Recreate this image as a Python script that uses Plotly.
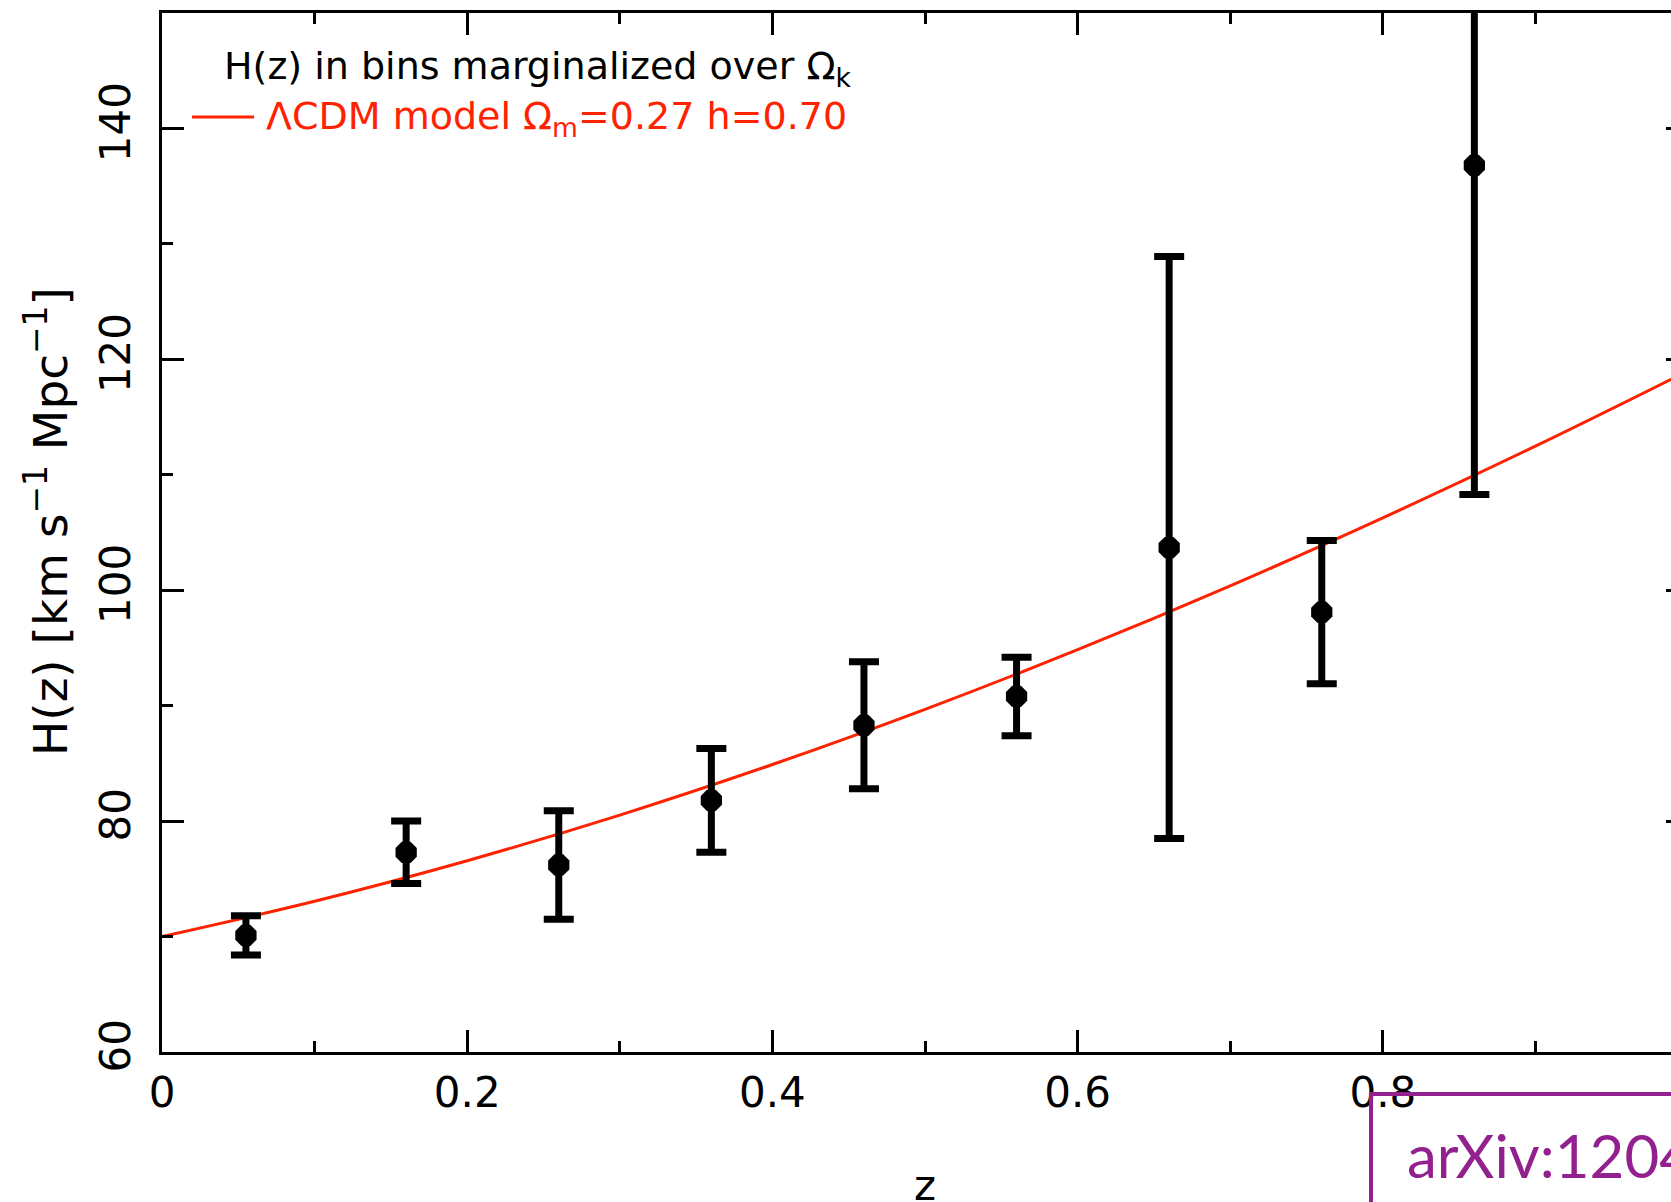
import plotly.graph_objects as go

# ---- data ----
z_bins = [0.055, 0.16, 0.26, 0.36, 0.46, 0.56, 0.66, 0.76, 0.86]
H_bins = [70.1, 77.3, 76.2, 81.8, 88.3, 90.8, 103.7, 98.1, 136.8]
H_err = [1.7, 2.7, 4.7, 4.5, 5.5, 3.4, 25.2, 6.2, 28.5]

model_z = [0.0, 0.1, 0.2, 0.3, 0.4, 0.5, 0.6, 0.7, 0.8, 0.9, 1.0]
model_H = [70.0, 73.06, 76.57, 80.52, 84.90, 89.68, 94.85, 100.38, 106.27, 112.48, 119.0]

x_ticks = [0, 0.2, 0.4, 0.6, 0.8]
x_ticklabels = ["0", "0.2", "0.4", "0.6", "0.8"]
y_ticks = [60, 80, 100, 120, 140]
y_ticklabels = ["60", "80", "100", "120", "140"]

W, Hh = 1671, 1202
ML, MR, MT, MB = 162, 0, 13, 150
PW = W - ML - MR
PH = Hh - MT - MB


def px(xp):
    return (xp - ML) / PW


def py(yp):
    return (Hh - MB - yp) / PH


RED = "#ff2200"
PURPLE = "#93208f"
FONT = "DejaVu Sans"

fig = go.Figure()

fig.add_trace(go.Scatter(
    x=model_z, y=model_H, mode="lines", line=dict(color=RED, width=3, shape="spline"),
    showlegend=False, hoverinfo="skip"))

fig.add_trace(go.Scatter(
    x=z_bins, y=H_bins, mode="markers",
    marker=dict(symbol="octagon", size=23, color="black"),
    error_y=dict(type="data", array=H_err, color="black", thickness=7, width=15),
    showlegend=False))

# invisible trace for right-hand tick stubs
fig.add_trace(go.Scatter(x=[0.5], y=[100], yaxis="y2", mode="markers",
                         marker=dict(opacity=0), showlegend=False, hoverinfo="skip"))

fig.update_layout(
    width=W, height=Hh,
    margin=dict(l=ML, r=MR, t=MT, b=MB, pad=0),
    plot_bgcolor="white", paper_bgcolor="white",
    font=dict(family=FONT, color="black"),
    xaxis=dict(range=[0, PW / 1526.0], tickvals=x_ticks, ticktext=x_ticklabels, automargin=False,
               showline=True, linecolor="black", linewidth=3, mirror="ticks",
               ticks="inside", ticklen=22, tickwidth=3, tickcolor="black",
               tickfont=dict(size=42, family=FONT), ticklabelstandoff=2,
               minor=dict(dtick=0.1, tick0=0, ticks="inside", ticklen=11, tickwidth=3, tickcolor="black"),
               showgrid=False, zeroline=False),
    yaxis=dict(range=[60, 150], tickvals=y_ticks, ticktext=y_ticklabels, automargin=False,
               showline=True, linecolor="black", linewidth=3, mirror=False,
               ticks="inside", ticklen=22, tickwidth=3, tickcolor="black",
               tickangle=-90, tickfont=dict(size=42, family=FONT), ticklabelstandoff=12,
               minor=dict(dtick=10, tick0=60, ticks="inside", ticklen=11, tickwidth=3, tickcolor="black"),
               showgrid=False, zeroline=False),
    yaxis2=dict(range=[60, 150], overlaying="y", side="right", tickvals=y_ticks, automargin=False,
                showticklabels=False, ticks="inside", ticklen=5, tickwidth=3, tickcolor="black",
                showline=False, showgrid=False, zeroline=False),
)

# legend-like text
fig.add_annotation(xref="paper", yref="paper", x=px(222), y=py(68), xanchor="left", yanchor="middle",
                   text="H(z) in bins marginalized over Ω<sub>k</sub>", showarrow=False,
                   font=dict(size=38, color="black", family=FONT))
fig.add_annotation(xref="paper", yref="paper", x=px(264), y=py(119), xanchor="left", yanchor="middle",
                   text="ΛCDM model Ω<sub>m</sub>=0.27 h=0.70", showarrow=False,
                   font=dict(size=38, color=RED, family=FONT))
fig.add_shape(type="line", xref="paper", yref="paper", x0=px(192), x1=px(254), y0=py(117), y1=py(117),
              line=dict(color=RED, width=3))

# axis titles
fig.add_annotation(xref="x", yref="paper", x=0.5, y=py(1185), xanchor="center", yanchor="middle",
                   text="z", showarrow=False, font=dict(size=42, family=FONT))
fig.add_annotation(xref="paper", yref="paper", x=px(47), y=py(522), xanchor="center", yanchor="middle",
                   text="H(z) [km s<sup>−1</sup> Mpc<sup>−1</sup>]", textangle=-90, showarrow=False,
                   font=dict(size=47, family=FONT))

# arXiv box
fig.add_shape(type="rect", xref="paper", yref="paper", x0=px(1371), x1=px(1700), y0=py(1094), y1=py(1230),
              line=dict(color=PURPLE, width=4), fillcolor="rgba(0,0,0,0)")
fig.add_annotation(xref="paper", yref="paper", x=px(1405), y=py(1155), xanchor="left", yanchor="middle",
                   text="arXiv:1204", showarrow=False, font=dict(size=60, color=PURPLE, family="Lato"))

fig.write_html("out.html", config={"displayModeBar": False},
               post_script="document.body.style.margin='0';document.body.style.overflow='hidden';")
